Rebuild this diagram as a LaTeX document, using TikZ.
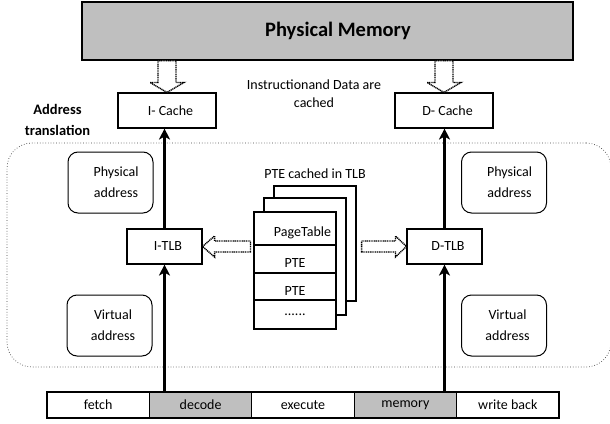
\documentclass[tikz,border=0pt]{standalone}
\usepackage{fontspec}
\setmainfont{Carlito}
\usetikzlibrary{arrows.meta,calc}
\definecolor{boxgray}{RGB}{191,191,191}
\begin{document}
\begin{tikzpicture}[x=1pt,y=-1pt,
  every node/.style={font=\fontsize{14}{21}\selectfont, inner sep=0pt},
  box/.style={draw, line width=1.1pt, fill=white},
  shadebox/.style={box, fill=boxgray},
  addrbox/.style={draw, line width=1pt, fill=white, rounded corners=10pt,
    minimum width=85pt, minimum height=61pt, align=center},
  nudge/.style={execute at begin node={\hspace*{#1}}},
  rowtext/.style={text height=#1, text depth=0pt},
  feed/.style={line width=2.2pt, -{Stealth[length=11pt,width=11pt,inset=3pt]}},
  hollow/.style={draw, dash pattern=on 1.1pt off 0.7pt, line width=1.4pt, fill=white},
  region/.style={draw=black!75, dotted, line width=0.7pt, rounded corners=25pt}
]
\useasboundingbox (0,0) rectangle (610,423);

% address translation area
\node[region, minimum width=604pt, minimum height=224pt] (area) at (309,255) {};

% memory and caches
\node[shadebox, minimum width=491pt, minimum height=58pt,
  font=\bfseries\fontsize{20.5}{24}\selectfont, nudge=21pt] (pm) at (327.5,31) {Physical Memory};
\node[box, minimum width=98pt, minimum height=35pt, nudge=7pt] (ic) at (167,110.5) {I- Cache};
\node[box, minimum width=98pt, minimum height=35pt, nudge=7pt] (dc) at (444,110.5) {D- Cache};

\node[align=center] (note) at (314,94) {Instructionand Data are\\[-3pt]cached};
\node[align=center, font=\bfseries\fontsize{14.5}{21}\selectfont] (atl) at (57.5,119.5) {Address\\translation};

% TLBs
\node[box, minimum width=75pt, minimum height=35pt, nudge=7pt] (itlb) at (164.5,246.5) {I-TLB};
\node[box, minimum width=75pt, minimum height=35pt, nudge=7pt] (dtlb) at (444.5,246.5) {D-TLB};

% address boxes
\node[addrbox] (physl) at (110.5,182.5) {\hspace*{11pt}Physical\\\hspace*{11pt}address};
\node[addrbox] (physr) at (504,182.5) {\hspace*{11pt}Physical\\\hspace*{11pt}address};
\node[addrbox] (virtl) at (109.5,325.5) {\hspace*{7pt}Virtual\\\hspace*{7pt}address};
\node[addrbox] (virtr) at (504,325.5) {\hspace*{7pt}Virtual\\\hspace*{7pt}address};

% page table stack
\node (ptecap) at (315,174) {PTE cached in TLB};
\node[box, minimum width=82pt, minimum height=115pt] (sheetc) at (315,243.5) {};
\node[box, minimum width=82pt, minimum height=117pt] (sheetb) at (305,256.5) {};
\node[box, minimum width=82pt, minimum height=33pt, rowtext=15pt, nudge=15pt] (ptrow) at (295,228.5) {PageTable};
\node[box, minimum width=82pt, minimum height=28pt, rowtext=17pt] (pte1) at (295,259) {PTE};
\node[box, minimum width=82pt, minimum height=27pt, rowtext=17pt] (pte2) at (295,286.5) {PTE};
\node[box, minimum width=82pt, minimum height=29pt] (more) at (295,314.5) {......};

% pipeline stages
\node[box, minimum width=102.4pt, minimum height=26pt] (fetch) at (98.2,405) {fetch};
\node[shadebox, minimum width=102.4pt, minimum height=26pt] (decode) at (200.6,405) {decode};
\node[box, minimum width=102.4pt, minimum height=26pt] (execute) at (303,405) {execute};
\node[shadebox, minimum width=102.4pt, minimum height=26pt] (memory) at (405.4,405) {memory};
\node[box, minimum width=102.4pt, minimum height=26pt] (wb) at (507.8,405) {write back};

% address flow
\draw[feed] (decode.north -| itlb.south) -- (itlb.south);
\draw[feed] (itlb.north) -- (itlb.north |- ic.south);
\draw[feed] (memory.north -| dtlb.south) -- (dtlb.south);
\draw[feed] (dtlb.north) -- (dtlb.north |- dc.south);

% block arrows: memory to caches
\path[hollow] let \p1=(pm.south -| ic.north), \p2=(ic.north) in
  (\x1-9pt,\y1) -- (\x1-9pt,\y2+10pt) -- (\x1-17pt,\y2+10pt) -- (\p2)
  -- (\x1+17pt,\y2+10pt) -- (\x1+9pt,\y2+10pt) -- (\x1+9pt,\y1) -- cycle;
\path[hollow] let \p1=(pm.south -| dc.north), \p2=(dc.north) in
  (\x1-9pt,\y1) -- (\x1-9pt,\y2+10pt) -- (\x1-17pt,\y2+10pt) -- (\p2)
  -- (\x1+17pt,\y2+10pt) -- (\x1+9pt,\y2+10pt) -- (\x1+9pt,\y1) -- cycle;

% block arrows: page table to TLBs
\path[hollow] let \p1=(ptrow.west), \p2=(itlb.east) in
  (\x1-3pt,\y2+5.5pt) -- (\x2+12pt,\y2+5.5pt) -- (\x2+12pt,\y2+10.5pt) -- (\p2)
  -- (\x2+12pt,\y2-10.5pt) -- (\x2+12pt,\y2-5.5pt) -- (\x1-3pt,\y2-5.5pt) -- cycle;
\path[hollow] let \p1=(sheetc.east), \p2=(dtlb.west) in
  (\x1+5pt,\y2+5.5pt) -- (\x2-11pt,\y2+5.5pt) -- (\x2-11pt,\y2+10.5pt) -- (\p2)
  -- (\x2-11pt,\y2-10.5pt) -- (\x2-11pt,\y2-5.5pt) -- (\x1+5pt,\y2-5.5pt) -- cycle;
\end{tikzpicture}
\end{document}
